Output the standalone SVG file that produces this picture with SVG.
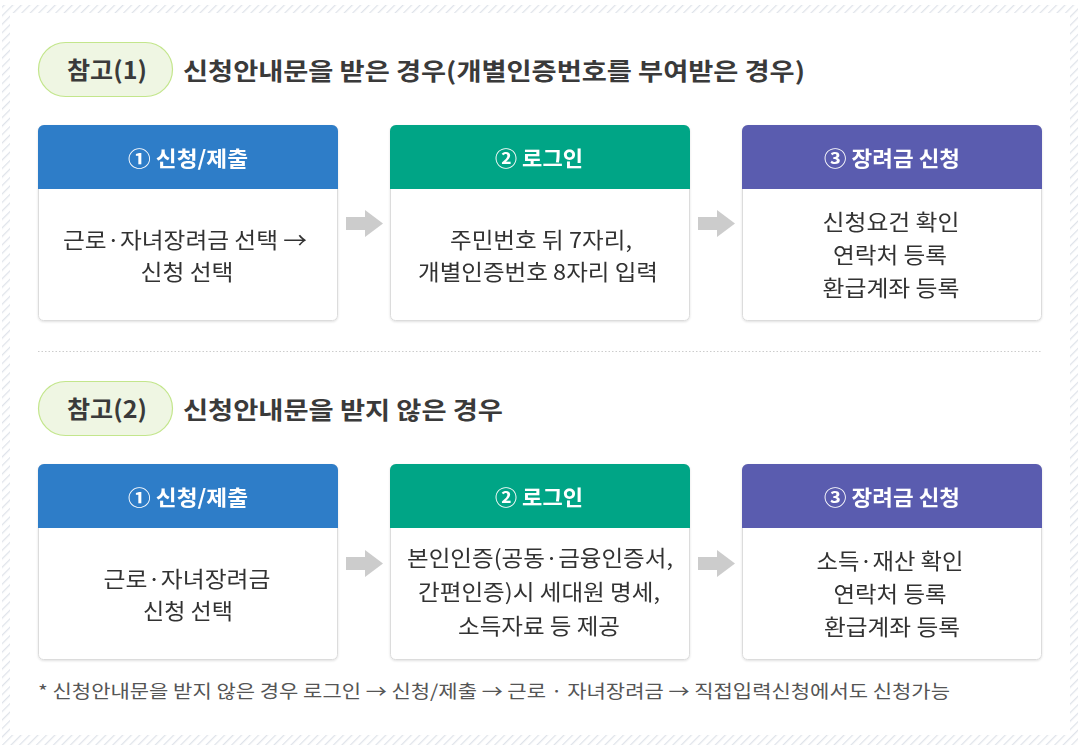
<svg xmlns="http://www.w3.org/2000/svg" width="1087" height="750" viewBox="0 0 1087 750">
<defs>
<pattern id="hatch" width="6" height="6" patternUnits="userSpaceOnUse" patternTransform="rotate(45)">
<rect width="6" height="6" fill="#ffffff"/>
<line x1="0" y1="0" x2="0" y2="6" stroke="#dfe3ea" stroke-width="2.5"/>
</pattern>
<filter id="sh" x="-5%" y="-5%" width="110%" height="110%">
<feDropShadow dx="0" dy="1" stdDeviation="1" flood-color="#000" flood-opacity="0.12"/>
</filter>
<style>
.pill{fill:#eff6e3;stroke:#c3e68c;stroke-width:1.2}
.pilltxt{font-family:"Noto Sans CJK KR",sans-serif;font-weight:bold;font-size:24px;fill:#3a3a3a;text-anchor:middle}
.ttl{font-family:"Noto Sans CJK KR",sans-serif;font-weight:bold;font-size:24px;fill:#3a3a3a}
.card{fill:#ffffff;stroke:#dcdcdc;stroke-width:1}
.hd{font-family:"Noto Sans CJK KR",sans-serif;font-weight:bold;font-size:21px;fill:#ffffff;text-anchor:middle}
.bd{font-family:"Noto Sans CJK KR",sans-serif;font-size:22px;fill:#333333;text-anchor:middle}
.arr{fill:#cccccc}
.note{font-family:"Noto Sans CJK KR",sans-serif;font-size:18px;fill:#555555}
</style>
</defs>
<rect x="2" y="5" width="1076" height="740" fill="url(#hatch)"/>
<rect x="10" y="13" width="1060" height="722" fill="#ffffff"/>

<g id="pill1">
<rect class="pill" x="38.5" y="42.5" width="134" height="54" rx="27"/>
<text class="pilltxt" x="107" y="79" textLength="80" lengthAdjust="spacingAndGlyphs">참고(1)</text>
</g>
<text id="title1" class="ttl" x="183" y="80" textLength="622" lengthAdjust="spacingAndGlyphs">신청안내문을 받은 경우(개별인증번호를 부여받은 경우)</text>

<g id="s1c1" filter="url(#sh)">
<rect class="card" x="38.5" y="125.5" width="299" height="195" rx="5"/>
<path d="M38 189 V131 a6 6 0 0 1 6 -6 H332 a6 6 0 0 1 6 6 V189 Z" fill="#2f7dc8"/>
<text class="hd" x="188" y="166" textLength="120" lengthAdjust="spacingAndGlyphs">① 신청/제출</text>
<text class="bd" x="185" y="248" textLength="244" lengthAdjust="spacingAndGlyphs">근로·자녀장려금 선택 →</text>
<text class="bd" x="187" y="280" textLength="93" lengthAdjust="spacingAndGlyphs">신청 선택</text>
</g>
<g id="s1c2" filter="url(#sh)">
<rect class="card" x="390.5" y="125.5" width="299" height="195" rx="5"/>
<path d="M390 189 V131 a6 6 0 0 1 6 -6 H684 a6 6 0 0 1 6 6 V189 Z" fill="#05a586"/>
<text class="hd" x="539" y="166" textLength="88" lengthAdjust="spacingAndGlyphs">② 로그인</text>
<text class="bd" x="541" y="248" textLength="182" lengthAdjust="spacingAndGlyphs">주민번호 뒤 7자리,</text>
<text class="bd" x="538" y="280" textLength="240" lengthAdjust="spacingAndGlyphs">개별인증번호 8자리 입력</text>
</g>
<g id="s1c3" filter="url(#sh)">
<rect class="card" x="742.5" y="125.5" width="299" height="195" rx="5"/>
<path d="M742 189 V131 a6 6 0 0 1 6 -6 H1036 a6 6 0 0 1 6 6 V189 Z" fill="#5a5caf"/>
<text class="hd" x="892" y="166" textLength="136" lengthAdjust="spacingAndGlyphs">③ 장려금 신청</text>
<text class="bd" x="891" y="230" textLength="137" lengthAdjust="spacingAndGlyphs">신청요건 확인</text>
<text class="bd" x="890" y="263" textLength="114" lengthAdjust="spacingAndGlyphs">연락처 등록</text>
<text class="bd" x="891" y="296" textLength="137" lengthAdjust="spacingAndGlyphs">환급계좌 등록</text>
</g>

<line id="sep" x1="38" y1="351.5" x2="1042" y2="351.5" stroke="#cccccc" stroke-width="1" stroke-dasharray="1.5 2"/>

<g id="pill2">
<rect class="pill" x="38.5" y="381.5" width="134" height="54" rx="27"/>
<text class="pilltxt" x="107" y="418" textLength="80" lengthAdjust="spacingAndGlyphs">참고(2)</text>
</g>
<text id="title2" class="ttl" x="183" y="419" textLength="320" lengthAdjust="spacingAndGlyphs">신청안내문을 받지 않은 경우</text>

<g id="s2c1" filter="url(#sh)">
<rect class="card" x="38.5" y="464.5" width="299" height="195" rx="5"/>
<path d="M38 528 V470 a6 6 0 0 1 6 -6 H332 a6 6 0 0 1 6 6 V528 Z" fill="#2f7dc8"/>
<text class="hd" x="188" y="505" textLength="120" lengthAdjust="spacingAndGlyphs">① 신청/제출</text>
<text class="bd" x="187" y="587" textLength="167" lengthAdjust="spacingAndGlyphs">근로·자녀장려금</text>
<text class="bd" x="188" y="619" textLength="90" lengthAdjust="spacingAndGlyphs">신청 선택</text>
</g>
<g id="s2c2" filter="url(#sh)">
<rect class="card" x="390.5" y="464.5" width="299" height="195" rx="5"/>
<path d="M390 528 V470 a6 6 0 0 1 6 -6 H684 a6 6 0 0 1 6 6 V528 Z" fill="#05a586"/>
<text class="hd" x="539" y="505" textLength="88" lengthAdjust="spacingAndGlyphs">② 로그인</text>
<text class="bd" x="540" y="566" textLength="266" lengthAdjust="spacingAndGlyphs">본인인증(공동·금융인증서,</text>
<text class="bd" x="539" y="600" textLength="242" lengthAdjust="spacingAndGlyphs">간편인증)시 세대원 명세,</text>
<text class="bd" x="539" y="634" textLength="162" lengthAdjust="spacingAndGlyphs">소득자료 등 제공</text>
</g>
<g id="s2c3" filter="url(#sh)">
<rect class="card" x="742.5" y="464.5" width="299" height="195" rx="5"/>
<path d="M742 528 V470 a6 6 0 0 1 6 -6 H1036 a6 6 0 0 1 6 6 V528 Z" fill="#5a5caf"/>
<text class="hd" x="892" y="505" textLength="136" lengthAdjust="spacingAndGlyphs">③ 장려금 신청</text>
<text class="bd" x="890" y="569" textLength="147" lengthAdjust="spacingAndGlyphs">소득·재산 확인</text>
<text class="bd" x="890" y="602" textLength="113" lengthAdjust="spacingAndGlyphs">연락처 등록</text>
<text class="bd" x="892" y="635" textLength="136" lengthAdjust="spacingAndGlyphs">환급계좌 등록</text>
</g>

<g id="connectors">
<path class="arr" d="M346 217 H365 V210 L383 223.5 L365 237 V230 H346 Z"/>
<path class="arr" d="M698 217 H717 V210 L735 223.5 L717 237 V230 H698 Z"/>
<path class="arr" d="M346 557 H365 V550 L383 563.5 L365 577 V570 H346 Z"/>
<path class="arr" d="M698 557 H717 V550 L735 563.5 L717 577 V570 H698 Z"/>
</g>

<text id="note" class="note" x="38" y="698" textLength="912" lengthAdjust="spacingAndGlyphs">* 신청안내문을 받지 않은 경우 로그인 → 신청/제출 → 근로 · 자녀장려금 → 직접입력신청에서도 신청가능</text>
</svg>
